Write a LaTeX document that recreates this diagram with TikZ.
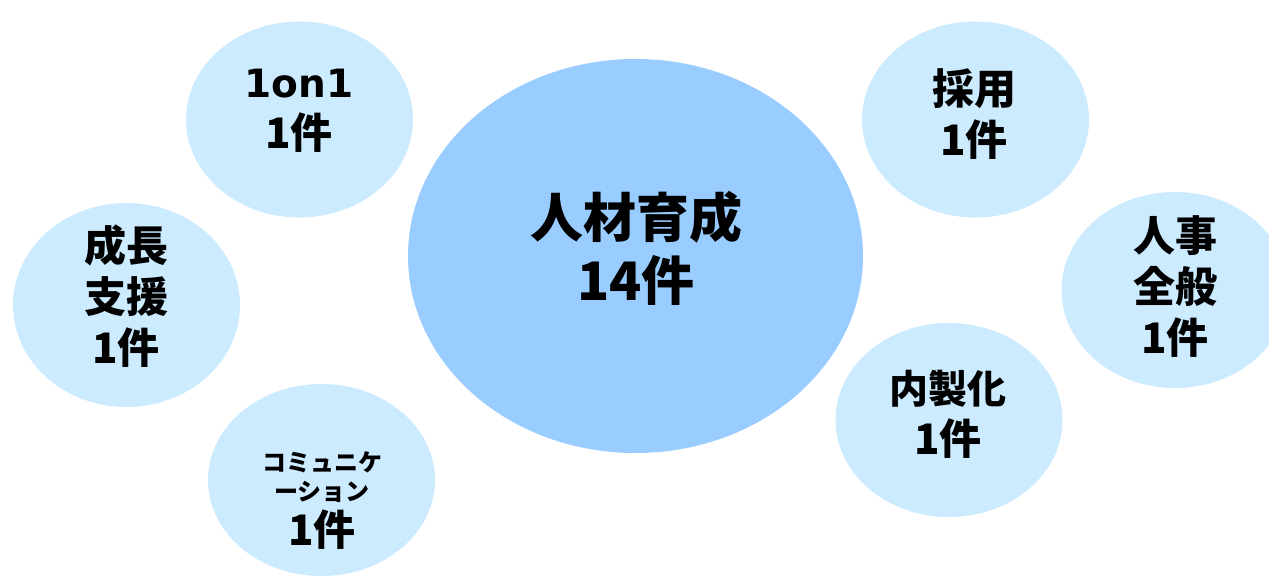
\documentclass[tikz,border=0pt]{standalone}
\usepackage{fontspec}
\setmainfont{Noto Sans CJK JP}
\newfontfamily\vd{DejaVu Sans}
\usetikzlibrary{shapes.geometric}
\definecolor{bigblue}{HTML}{99CCFF}
\definecolor{smallblue}{HTML}{CCEBFF}
\tikzset{
  bigbub/.style={ellipse,fill=bigblue,draw=none,inner sep=0pt,minimum width=455pt,minimum height=394pt},
  smallbub/.style={ellipse,fill=smallblue,draw=none,inner sep=0pt,minimum width=227pt,minimum height=196pt},
  bigtxt/.style={align=center,inner sep=0pt,font=\bfseries\fontsize{53}{63}\selectfont},
  smalltxt/.style={align=center,inner sep=0pt,font=\bfseries\fontsize{42}{51}\selectfont},
}
\begin{document}
\begin{tikzpicture}[x=1pt,y=-1pt]
\useasboundingbox (0,0) rectangle (1269,576);
\fill[white] (0,0) rectangle (1269,576);
% bubbles
\node[bigbub] (hr) at (635.5,256) {};
\node[smallbub] (oneon) at (299.5,119.5) {};
\node[smallbub] (saiyo) at (975.5,119.5) {};
\node[smallbub,minimum height=204pt] (seicho) at (126.5,305) {};
\node[smallbub,minimum height=192pt] (comm) at (321.5,480) {};
\node[smallbub] (jinji) at (1175,290) {};
\node[smallbub,minimum height=194pt] (naisei) at (949,420) {};
% labels
\node[bigtxt] (hrt) at (636,248) {人材育成\\14件};
\node[smalltxt] (oneont) at (299,111) {{\vd\fontsize{39}{51}\selectfont 1on1}\\1件};
\node[smalltxt] (saiyot) at (974,114) {採用\\1件};
\node[smalltxt] (seichot) at (126,296) {成長\\支援\\1件};
\node[smalltxt] (jinjit) at (1175,287) {人事\\全般\\1件};
\node[smalltxt] (naiseit) at (948,414) {{\fontsize{39}{51}\selectfont 内製化}\\1件};
\node[inner sep=0pt,align=center,font=\bfseries\fontsize{24}{29}\selectfont] (commt) at (322,477.5) {コミュニケ\\ーション};
\node[smalltxt] (commn) at (322,530) {1件};
\end{tikzpicture}
\end{document}
